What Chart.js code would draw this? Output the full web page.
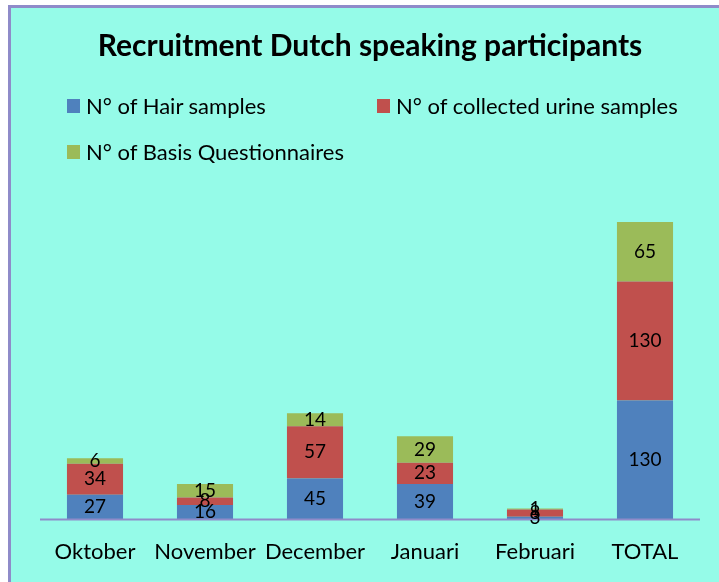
<!DOCTYPE html>
<html>
<head>
<meta charset="utf-8">
<script src="https://cdn.jsdelivr.net/npm/chart.js@4"></script>
<style>
  html, body { margin: 0; padding: 0; background: #fff; }
  #frame {
    position: absolute; left: 8px; top: 5px; width: 711px; height: 577px;
    border-left: 3px solid #8f8bc9; border-top: 3px solid #8f8bc9;
    background: #95fbe8; overflow: hidden;
  }
  #chart-box { position: absolute; left: 0; top: 0; width: 708px; height: 600px; }
  #legend { position: absolute; left: 0; top: 0; font-family: Lato, sans-serif; font-size: 22px; color: #000; }
  .lg-item { position: absolute; white-space: nowrap; line-height: 24px; }
  .lg-item i { position: absolute; left: 0; top: 5px; width: 13px; height: 14px; }
  .lg-item span { position: absolute; left: 19px; top: 0; }
</style>
</head>
<body>
<div id="frame">
  <div id="chart-box"><canvas id="c" width="708" height="600"></canvas></div>
  <div id="legend"></div>
</div>
<script>
// Recruitment chart, stacked bars, three series.
const MONTHS = ["Oktober", "November", "December", "Januari", "Februari", "TOTAL"];
const HAIR = [27, 16, 45, 39, 3, 130];
const URINE = [34, 8, 57, 23, 8, 130];
const QUEST = [6, 15, 14, 29, 1, 65];
const SERIES_NAMES = ["N° of Hair samples", "N° of collected urine samples", "N° of Basis Questionnaires"];
const COLORS = ["#4f81bd", "#c0504d", "#9bbb59"];

const FONT = "Lato, sans-serif";
const AXIS_COLOR = "#8f8bc9";

// category axis line, only as wide as the plot area
const axisLine = {
  id: "axisLine",
  afterDatasetsDraw(chart) {
    const { ctx, chartArea } = chart;
    ctx.save();
    ctx.strokeStyle = AXIS_COLOR;
    ctx.lineWidth = 2;
    ctx.beginPath();
    ctx.moveTo(chartArea.left, chartArea.bottom);
    ctx.lineTo(chartArea.right, chartArea.bottom);
    ctx.stroke();
    ctx.restore();
  }
};

// value labels in the middle of each segment
const segLabels = {
  id: "segLabels",
  afterDatasetsDraw(chart) {
    const ctx = chart.ctx;
    ctx.save();
    ctx.font = "19px " + FONT;
    ctx.fillStyle = "#000";
    ctx.textAlign = "center";
    ctx.textBaseline = "middle";
    chart.data.datasets.forEach((ds, di) => {
      chart.getDatasetMeta(di).data.forEach((bar, i) => {
        const y = (bar.y + bar.base) / 2;
        ctx.fillText(String(ds.data[i]), bar.x, y);
      });
    });
    ctx.restore();
  }
};

const datasets = [HAIR, URINE, QUEST].map((vals, i) => ({
  label: SERIES_NAMES[i],
  data: vals,
  backgroundColor: COLORS[i],
  borderWidth: 0,
  barPercentage: 0.51,
  categoryPercentage: 1,
}));

new Chart(document.getElementById("c"), {
  type: "bar",
  data: { labels: MONTHS, datasets },
  options: {
    responsive: false,
    animation: false,
    layout: { padding: { left: 29, right: 19, top: 0, bottom: 24 } },
    plugins: {
      legend: { display: false },
      tooltip: { enabled: false },
      title: {
        display: true,
        text: "Recruitment Dutch speaking participants",
        color: "#000",
        font: { family: FONT, size: 30, weight: "bold" },
        padding: { top: 20, bottom: 135 },
      },
    },
    scales: {
      x: {
        stacked: true,
        grid: { display: false, drawTicks: false },
        border: { display: false },
        ticks: { color: "#000", font: { family: FONT, size: 22 }, padding: 19 },
      },
      y: {
        stacked: true,
        display: false,
        min: 0,
        max: 350,
      },
    },
  },
  plugins: [axisLine, segLabels],
});

// legend laid out like the original (two columns, then one row)
const LEGEND_POS = [[56, 86], [366, 86], [56, 132]];
const host = document.getElementById("legend");
SERIES_NAMES.forEach((name, i) => {
  const item = document.createElement("div");
  item.className = "lg-item";
  item.style.left = LEGEND_POS[i][0] + "px";
  item.style.top = LEGEND_POS[i][1] + "px";
  const sw = document.createElement("i");
  sw.style.background = COLORS[i];
  const txt = document.createElement("span");
  txt.textContent = name;
  item.appendChild(sw);
  item.appendChild(txt);
  host.appendChild(item);
});
</script>
</body>
</html>
